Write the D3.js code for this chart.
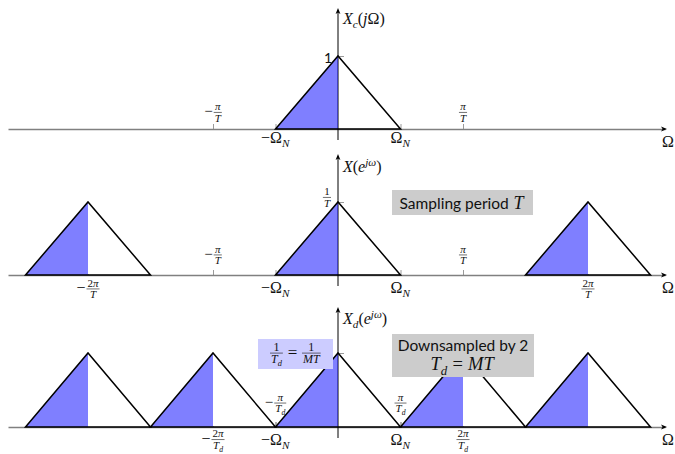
<!DOCTYPE html>
<html>
<head>
<meta charset="utf-8">
<script src="https://cdn.jsdelivr.net/npm/d3@7"></script>
<style>
  body { margin: 0; background: #fff; }
</style>
</head>
<body>
<svg id="chart" width="675" height="454"></svg>
<script>
// Frequencies are expressed in units of π/T.
const omegaN = 0.5;            // band edge Ω_N
const peakValue = 1;           // normalised spectrum peak
const continuousCopies = [0];
const sampledCopies = [-2, 0, 2];
const downsampledCopies = [-2, -1, 0, 1, 2];

// tick labels (value, label) drawn above / below each frequency axis
const topAbove = [{ v: -1, s: "-π/T" }, { v: 1, s: "π/T" }];
const topBelow = [{ v: -0.5, s: "-Ω_N" }, { v: 0.5, s: "Ω_N" }];
const midAbove = [{ v: -1, s: "-π/T" }, { v: 1, s: "π/T" }];
const midBelow = [{ v: -2, s: "-2π/T" }, { v: -0.5, s: "-Ω_N" }, { v: 0.5, s: "Ω_N" }, { v: 2, s: "2π/T" }];
const botAbove = [{ v: -0.5, s: "-π/T_d" }, { v: 0.5, s: "π/T_d" }];
const botBelow = [{ v: -1, s: "-2π/T_d" }, { v: -0.5, s: "-Ω_N" }, { v: 0.5, s: "Ω_N" }, { v: 1, s: "2π/T_d" }];

const axisNames = ["X_c(jΩ)", "X(e^{jω})", "X_d(e^{jω})"];
const peakLabels = ["1", "1/T", "1/T_d = 1/MT"];
const freqName = "Ω";
const samplingNote = ["Sampling period|T"];
const downsampleNote = ["Downsampled by 2", "|T_d = MT"];

const SERIF = "'Liberation Serif', 'DejaVu Serif', serif";
const SANS = "Lato, 'DejaVu Sans', sans-serif";

const svg = d3.select("#chart");
const x = d3.scaleLinear().domain([-2.64, 2.616]).range([8, 665]);

// ---- math text helpers -------------------------------------------------
function parseMath(s) {
  const out = [];
  let i = 0;
  while (i < s.length) {
    const ch = s[i];
    if (ch === "_" || ch === "^") {
      const shift = ch === "_" ? "sub" : "sup";
      i++;
      let grp;
      if (s[i] === "{") { const j = s.indexOf("}", i); grp = s.slice(i + 1, j); i = j + 1; }
      else { grp = s[i]; i++; }
      for (const c of grp) out.push({ t: c, shift });
      continue;
    }
    out.push({ t: ch === "-" ? "−" : ch, shift: null });
    i++;
  }
  return out;
}

function inlineText(parent, s, size) {
  const t = parent.append("text")
    .attr("font-family", SERIF).attr("font-size", size).attr("fill", "#111");
  const runs = [];
  for (const p of parseMath(s)) {
    const it = /[A-Za-zπω]/.test(p.t);
    const last = runs[runs.length - 1];
    if (last && last.it === it && last.shift === p.shift) last.t += p.t;
    else runs.push({ t: p.t, it, shift: p.shift });
  }
  let cur = 0;
  for (const r of runs) {
    const off = r.shift === "sub" ? size * 0.25 : r.shift === "sup" ? -size * 0.4 : 0;
    t.append("tspan")
      .attr("dy", off - cur)
      .attr("font-style", r.it ? "italic" : "normal")
      .attr("font-size", r.shift ? size * 0.7 : size)
      .text(r.t);
    cur = off;
  }
  return t;
}

// lays out a formula starting at x=0 on baseline y=0
function formula(parent, s, size, fsize) {
  const g = parent.append("g");
  let cx = 0;
  s.split(" ").forEach((tok, k) => {
    if (k > 0) cx += size * 0.28;
    if (tok.includes("/")) {
      if (tok.startsWith("-")) {
        tok = tok.slice(1);
        const m = inlineText(g, "-", size).attr("x", cx);
        cx += m.node().getComputedTextLength() + 1;
      }
      const [n, d] = tok.split("/");
      const nt = inlineText(g, n, fsize), dt = inlineText(g, d, fsize);
      const nw = nt.node().getComputedTextLength(), dw = dt.node().getComputedTextLength();
      const w = Math.max(nw, dw) + 2;
      const ly = -size * 0.27;
      nt.attr("x", cx + (w - nw) / 2).attr("y", ly - fsize * 0.2);
      dt.attr("x", cx + (w - dw) / 2).attr("y", ly + fsize * 0.85);
      g.append("line").attr("x1", cx).attr("x2", cx + w).attr("y1", ly).attr("y2", ly)
        .attr("stroke", "#111").attr("stroke-width", 0.6);
      cx += w;
    } else {
      const t = inlineText(g, tok, size).attr("x", cx);
      cx += t.node().getComputedTextLength();
    }
  });
  return g;
}

// positions a group by the centre (or an edge) of its bounding box
function place(g, px, py, ax = 0.5, ay = 0.5) {
  const b = g.node().getBBox();
  g.attr("transform", `translate(${px - b.x - b.width * ax},${py - b.y - b.height * ay})`);
  return g;
}

function noteBox(parent, lines, x0, x1, y0, y1, fill, sizes) {
  parent.append("rect").attr("x", x0).attr("y", y0)
    .attr("width", x1 - x0).attr("height", y1 - y0).attr("fill", fill);
  const n = lines.length;
  lines.forEach((ln, k) => {
    const cy = y0 + (y1 - y0) * (k + 0.5) / n;
    const g = parent.append("g");
    const [plain, math] = ln.split("|");
    let cx = 0;
    if (plain) {
      const t = g.append("text").attr("font-family", SANS).attr("font-size", sizes[0])
        .attr("fill", "#111").text(plain);
      cx += t.node().getComputedTextLength() + (math !== undefined ? sizes[0] * 0.3 : 0);
    }
    if (math !== undefined) {
      const f = formula(g, math, sizes[1], 11);
      f.attr("transform", `translate(${cx},0)`);
    }
    place(g, (x0 + x1) / 2, cy);
  });
}

// ---- panels -------------------------------------------------------------
const panels = [
  { axisY: 129, peakY: 56, topY: 8, copies: continuousCopies, above: topAbove, below: topBelow,
    aboveCY: 112, belowCY: 138.5 },
  { axisY: 275, peakY: 202, topY: 154, copies: sampledCopies, above: midAbove, below: midBelow,
    aboveCY: 254.5, belowCY: 288.5 },
  { axisY: 427, peakY: 353, topY: 307, copies: downsampledCopies, above: botAbove, below: botBelow,
    aboveCY: 404, belowCY: 440.5 }
];

panels.forEach((p, idx) => {
  const y = d3.scaleLinear().domain([0, peakValue]).range([p.axisY, p.peakY]);
  const g = svg.append("g");

  // frequency axis with small upward ticks
  const tickVals = [...p.above, ...p.below].map(d => d.v);
  const ax = g.append("g").attr("transform", `translate(0,${p.axisY})`)
    .call(d3.axisTop(x).tickValues(tickVals).tickSize(5).tickSizeOuter(0).tickFormat(""));
  ax.select(".domain").attr("stroke", "#808080").attr("stroke-width", 1.4);
  ax.selectAll(".tick line").attr("stroke", "#808080").attr("stroke-width", 0.8);

  // amplitude axis
  const x0 = x(0);
  g.append("line").attr("x1", x0).attr("x2", x0).attr("y1", p.axisY + 11).attr("y2", p.topY + 3)
    .attr("stroke", "#000").attr("stroke-width", 1);
  g.append("path").attr("d", `M${x0},${p.topY} l-2.4,6 l2.4,-1.6 l2.4,1.6 Z`).attr("fill", "#000");
  const ya = g.append("g").attr("transform", `translate(${x0},0)`)
    .call(d3.axisRight(y).tickValues([peakValue]).tickSize(6).tickFormat(""));
  ya.select(".domain").remove();
  ya.selectAll(".tick line").attr("stroke", "#808080").attr("stroke-width", 0.8);

  // arrow at the end of the frequency axis
  const xe = x.range()[1];
  g.append("path").attr("d", `M${xe + 2},${p.axisY} l-6,-2.4 l1.6,2.4 l-1.6,2.4 Z`).attr("fill", "#000");

  const line = d3.line().x(d => x(d[0])).y(d => y(d[1]));

  // shaded left half of each spectral copy
  p.copies.forEach(c => {
    g.append("path")
      .attr("d", line([[c - omegaN, 0], [c, peakValue], [c, 0]]) + "Z")
      .attr("fill", "#0000ff").attr("fill-opacity", 0.5);
    if (c !== 0) {
      g.append("line").attr("x1", x(c) + 0.5).attr("x2", x(c) + 0.5)
        .attr("y1", y(0) - 1).attr("y2", y(peakValue) + 2)
        .attr("stroke", "#fff").attr("stroke-width", 1);
    }
  });
  // triangle outlines
  p.copies.forEach(c => {
    g.append("path")
      .attr("d", line([[c - omegaN, 0], [c, peakValue], [c + omegaN, 0]]) + "Z")
      .attr("fill", "none").attr("stroke", "#000").attr("stroke-width", 1.5)
      .attr("stroke-linejoin", "miter");
  });

  // tick labels
  p.above.forEach(d => place(formula(g, d.s, 15, 11), x(d.v), p.aboveCY));
  p.below.forEach(d => place(formula(g, d.s, 16, 11), x(d.v), p.belowCY));
  place(formula(g, freqName, 16, 11), 668, p.axisY + 12.5);

  // axis name
  place(formula(g, axisNames[idx], 16, 11), x0 + 4, p.topY + 12, 0, 0.5);

  // peak label
  if (idx === 0) {
    const t = g.append("g");
    t.append("text").attr("font-family", SANS).attr("font-size", 14).attr("fill", "#111").text(peakLabels[0]);
    place(t, 332, y(peakValue) + 1, 1, 0.5);
  } else if (idx === 1) {
    place(formula(g, peakLabels[1], 14, 11), 331, y(peakValue) - 5, 1, 0.5);
  }
});

// annotation boxes
const notes = svg.append("g");
noteBox(notes, samplingNote, 392, 533, 190, 215, "#cccccc", [15.5, 18]);
noteBox(notes, downsampleNote, 392, 534, 334, 377, "#cccccc", [15.5, 18.5]);

// boxed peak level of the downsampled spectrum
notes.append("rect").attr("x", 258).attr("y", 339).attr("width", 75).attr("height", 30).attr("fill", "#ccccff");
place(formula(notes, peakLabels[2], 17, 12), 295.5, 354);
</script>
</body>
</html>
